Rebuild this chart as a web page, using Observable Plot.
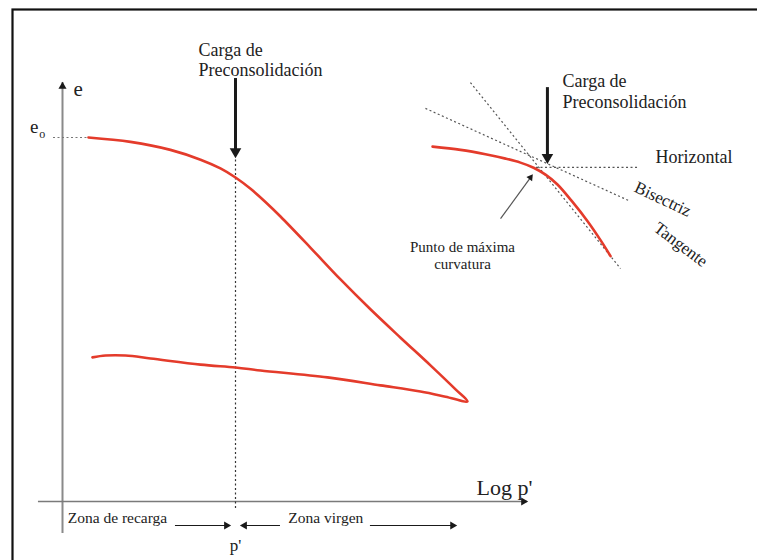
<!DOCTYPE html>
<html>
<head>
<meta charset="utf-8">
<script src="https://cdn.jsdelivr.net/npm/d3@7"></script>
<script src="https://cdn.jsdelivr.net/npm/@observablehq/plot@0.6"></script>
<style>
  html, body { margin: 0; padding: 0; background: #fff; overflow: hidden; }
  #chart svg { display: block; font-family: "Liberation Serif", "Times New Roman", serif; }
</style>
</head>
<body>
<div id="chart"></div>
<script>
// Casagrande construction on an e – log p' consolidation curve.
// x: log p' measured in cycles from the e-axis (p' of preconsolidation = 1)
// e: void ratio normalised so that the initial void ratio e0 = 1
const pPrime = 1.0;
const e0 = 1.0;

// loading branch (virgin compression), then unloading / rebound branch
const loadX = [0.150, 0.393, 0.624, 0.798, 0.913, 1.000, 1.087, 1.173, 1.260, 1.434, 1.607, 1.780, 1.954, 2.127, 2.272, 2.341];
const loadE = [1.000, 0.988, 0.966, 0.939, 0.915, 0.890, 0.859, 0.823, 0.783, 0.697, 0.610, 0.528, 0.450, 0.374, 0.308, 0.275];
const unloadX = [2.341, 2.214, 2.069, 1.838, 1.532, 1.145, 1.000, 0.798, 0.509, 0.364, 0.249, 0.173];
const unloadE = [0.275, 0.288, 0.302, 0.319, 0.341, 0.360, 0.368, 0.376, 0.393, 0.401, 0.401, 0.396];

// detail of the construction (drawn to the right)
const detailX = [2.139, 2.301, 2.445, 2.561, 2.647, 2.723, 2.792, 2.861, 2.948, 3.035, 3.110, 3.168];
const detailE = [0.975, 0.966, 0.954, 0.942, 0.931, 0.917, 0.898, 0.871, 0.823, 0.770, 0.718, 0.674];
const maxCurvX = 2.740, maxCurvE = 0.918;
const horizontalX = [2.740, 3.324];
const bisectorX = [2.098, 3.272], bisectorE = [1.080, 0.827];
const tangentX = [2.358, 3.225], tangentE = [1.151, 0.640];
const detailPc = 2.803;

// axis extents
const axisXmin = -0.139, axisXmax = 2.688;
const axisEmin = -0.088, axisEmax = 1.151;

// zones under the p' axis
const zoneE = -0.066;
const zoneRecargaX = [0.653, 0.965];
const zoneVirgenX = [1.035, 1.260];
const zoneVirgenX2 = [1.780, 2.272];

const pts = (xs, es) => xs.map((x, i) => ({x, e: es[i]}));
const loop = pts(loadX, loadE).concat(pts(unloadX, unloadE).slice(1));
const detail = pts(detailX, detailE);

const RED = "#e43b2b";
const INK = "#1a1a1a";
const FONT = "Liberation Serif, Times New Roman, serif";
const dotted = {stroke: "#555", strokeWidth: 1.2, strokeDasharray: "2,2.5"};
const head = (x, e, rotate, opts = {}) =>
  Plot.dot([{x, e}], {x: "x", y: "e", symbol: "triangle", r: 4, fill: INK, stroke: "none", rotate, ...opts});
const txt = (s, x, e, opts = {}) =>
  Plot.text([s], {x: () => x, y: () => e, text: d => d, fontFamily: FONT, fill: "#222", fontSize: 18, lineAnchor: "bottom", ...opts});

const chart = Plot.plot({
  width: 757,
  height: 560,
  margin: 0,
  style: {background: "#fff", overflow: "hidden", fontFamily: FONT},
  x: {domain: [0, 4], range: [62, 754], axis: null},
  y: {domain: [0, 1], range: [501, 137], axis: null},
  marks: [
    // border
    Plot.frame({stroke: "#111", strokeWidth: 2.2, insetTop: 9, insetLeft: 12, insetRight: -6, insetBottom: -6}),

    // axes
    Plot.ruleX([0], {y1: axisEmin, y2: axisEmax, stroke: "#8a8a8a", strokeWidth: 2}),
    head(0, axisEmax, 0, {dy: 4, r: 3}),
    Plot.ruleY([0], {x1: axisXmin, x2: axisXmax, stroke: "#7a7a7a", strokeWidth: 1.3}),
    head(axisXmax, 0, 90, {dx: -4, r: 3}),

    // e0 reference
    Plot.ruleY([e0], {x1: -0.052, x2: loadX[0], ...dotted, stroke: "#777"}),

    // preconsolidation load line
    Plot.ruleX([pPrime], {y1: -0.019, y2: 0.945, ...dotted, stroke: "#333"}),
    Plot.ruleX([pPrime], {y1: 0.960, y2: 1.162, stroke: INK, strokeWidth: 3}),
    head(pPrime, 0.945, 180, {dy: -6, r: 4.3}),

    // compression curve
    Plot.line(loop, {x: "x", y: "e", stroke: RED, strokeWidth: 2.6, curve: "catmull-rom"}),

    // construction detail
    Plot.link([{}], {x1: () => tangentX[0], y1: () => tangentE[0], x2: () => tangentX[1], y2: () => tangentE[1], ...dotted}),
    Plot.link([{}], {x1: () => bisectorX[0], y1: () => bisectorE[0], x2: () => bisectorX[1], y2: () => bisectorE[1], ...dotted}),
    Plot.ruleY([maxCurvE], {x1: horizontalX[0], x2: horizontalX[1], ...dotted}),
    Plot.line(detail, {x: "x", y: "e", stroke: RED, strokeWidth: 2.6, curve: "catmull-rom"}),
    Plot.ruleX([detailPc], {y1: 0.945, y2: 1.137, stroke: INK, strokeWidth: 3}),
    head(detailPc, 0.929, 180, {dy: -6, r: 4.3}),
    Plot.link([{}], {x1: () => 2.532, y1: () => 0.777, x2: () => 2.705, y2: () => 0.890, stroke: "#555", strokeWidth: 1.2}),
    head(2.705, 0.890, 36, {r: 2.6}),

    // zones
    Plot.ruleY([zoneE], {x1: zoneRecargaX[0], x2: zoneRecargaX[1], stroke: INK, strokeWidth: 1.2}),
    head(zoneRecargaX[1], zoneE, 90, {dx: -3, r: 3}),
    Plot.ruleY([zoneE], {x1: zoneVirgenX[0], x2: zoneVirgenX[1], stroke: INK, strokeWidth: 1.2}),
    head(zoneVirgenX[0], zoneE, -90, {dx: 3, r: 3}),
    Plot.ruleY([zoneE], {x1: zoneVirgenX2[0], x2: zoneVirgenX2[1], stroke: INK, strokeWidth: 1.2}),
    head(zoneVirgenX2[1], zoneE, 90, {dx: -3, r: 3}),

    // labels
    txt("e", 0.064, 1.115, {fontSize: 21, textAnchor: "start"}),
    txt("e", -0.139, 1.011, {fontSize: 19, textAnchor: "end"}),
    txt("o", -0.134, 0.999, {fontSize: 12, textAnchor: "start"}),
    txt("Carga de", 0.786, 1.225, {textAnchor: "start"}),
    txt("Preconsolidación", 0.786, 1.168, {textAnchor: "start"}),
    txt("Carga de", 2.890, 1.140, {textAnchor: "start"}),
    txt("Preconsolidación", 2.890, 1.080, {textAnchor: "start"}),
    txt("Horizontal", 3.428, 0.930, {textAnchor: "start"}),
    txt("Bisectriz", 3.457, 0.817, {textAnchor: "middle", rotate: 25, fontSize: 17}),
    txt("Tangente", 3.555, 0.694, {textAnchor: "middle", rotate: 37, fontSize: 17}),
    txt("Punto de máxima", 2.312, 0.686, {fontSize: 15}),
    txt("curvatura", 2.312, 0.639, {fontSize: 15}),
    txt("Log p'", 2.555, 0.018, {fontSize: 22, textAnchor: "middle"}),
    txt("Zona de recarga", 0.03, -0.058, {fontSize: 15.5, textAnchor: "start"}),
    txt("Zona virgen", 1.305, -0.058, {fontSize: 15.5, textAnchor: "start"}),
    txt("p'", pPrime, -0.135, {fontSize: 17})
  ]
});
document.getElementById("chart").append(chart);
</script>
</body>
</html>
